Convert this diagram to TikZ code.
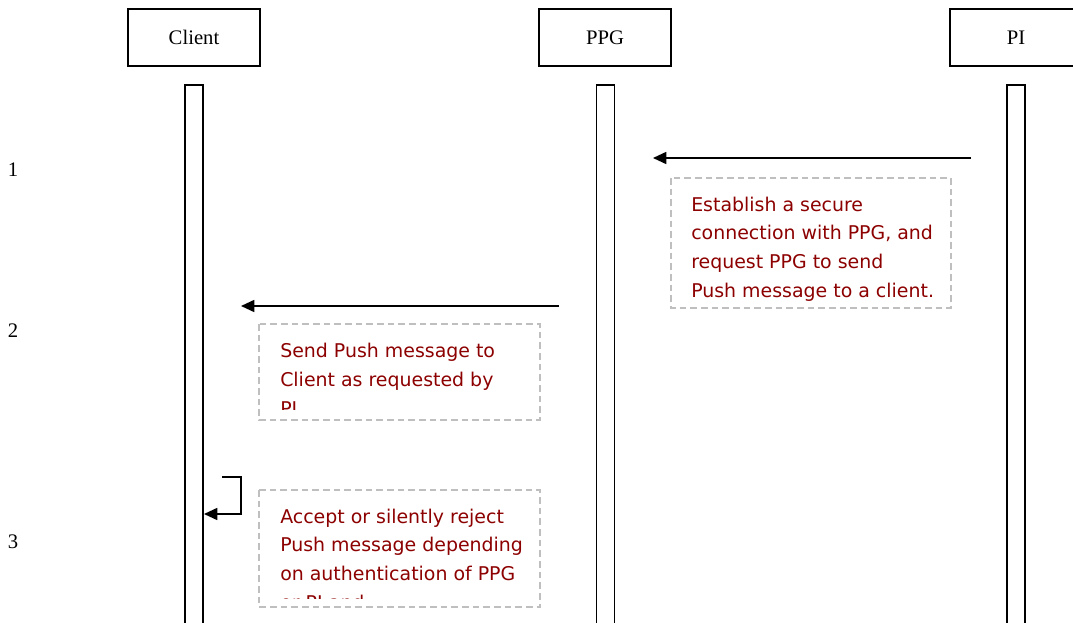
\documentclass[tikz,border=0pt]{standalone}
\usepackage{fontspec}
\setmainfont{Liberation Serif}
\newfontfamily\notefont{DejaVu Sans}
\usetikzlibrary{arrows.meta}

\begin{document}
\begin{tikzpicture}[x=0.75pt,y=-0.75pt,
        actor/.style={draw, line width=1.3pt, minimum width=99pt, minimum height=42.75pt, font=\fontsize{15.5}{18}\selectfont},
        lifeline/.style={draw, line width=1.3pt, minimum width=13.5pt, minimum height=450pt, anchor=north, inner sep=0pt},
        msg/.style={line width=1.3pt, -{Triangle[length=10pt,width=9pt]}},
        note/.style={draw=gray!50, dash pattern=on 5pt off 3pt, line width=1.3pt},
        notetext/.style={anchor=base west, align=left, inner sep=0pt, text=notered, font=\notefont\fontsize{14.2}{21.45}\selectfont},
        step num/.style={font=\fontsize{15.5}{18}\selectfont}]
        \definecolor{notered}{RGB}{140,0,0}
        \clip (0,0) rectangle (1073,623);

        % Draw the three parties
        \node[actor] (client) at (194,37.5) {Client};
        \node[actor] (ppg) at (605,37.5) {PPG};
        \node[actor] (pi) at (1016,37.5) {PI};

        % Draw the lifelines
        \node[lifeline] (clientlife) at (194,84) {};
        \node[lifeline] (ppglife) at (605.5,84) {};
        \node[lifeline] (pilife) at (1016,84) {};

        % Step numbers
        \node[step num] (n1) at (13,170) {1};
        \node[step num] (n2) at (13,331) {2};
        \node[step num] (n3) at (13,542) {3};

        % Step 1: PI to PPG
        \coordinate (pisend) at (971,158);
        \coordinate (ppgrecv) at (653,158);
        \draw[msg] (pisend) -- (ppgrecv);
        \draw[note] (671,178) rectangle (951,308);
        \begin{scope}
            \clip (671,178) rectangle (951,302);
            \node[notetext] (note1) at (691,297) {Establish a secure\\connection with PPG, and\\request PPG to send\\Push message to a client.};
        \end{scope}

        % Step 2: PPG to Client
        \coordinate (ppgsend) at (559,306);
        \coordinate (clientrecv) at (241,306);
        \draw[msg] (ppgsend) -- (clientrecv);
        \draw[note] (259,324) rectangle (540,420);
        \begin{scope}
            \clip (259,324) rectangle (540,409);
            \node[notetext] (note2) at (280,415) {Send Push message to\\Client as requested by\\PI};
        \end{scope}

        % Step 3: Client to itself
        \coordinate (selfout) at (222,477);
        \coordinate (selfin) at (204,514);
        \draw[msg] (selfout) -- ++(19,0) |- (selfin);
        \draw[note] (259,490) rectangle (540,607);
        \begin{scope}
            \clip (259,490) rectangle (540,598);
            \node[notetext] (note3) at (280,609) {Accept or silently reject\\Push message depending\\on authentication of PPG\\or PI and};
        \end{scope}
    \end{tikzpicture}
\end{document}
